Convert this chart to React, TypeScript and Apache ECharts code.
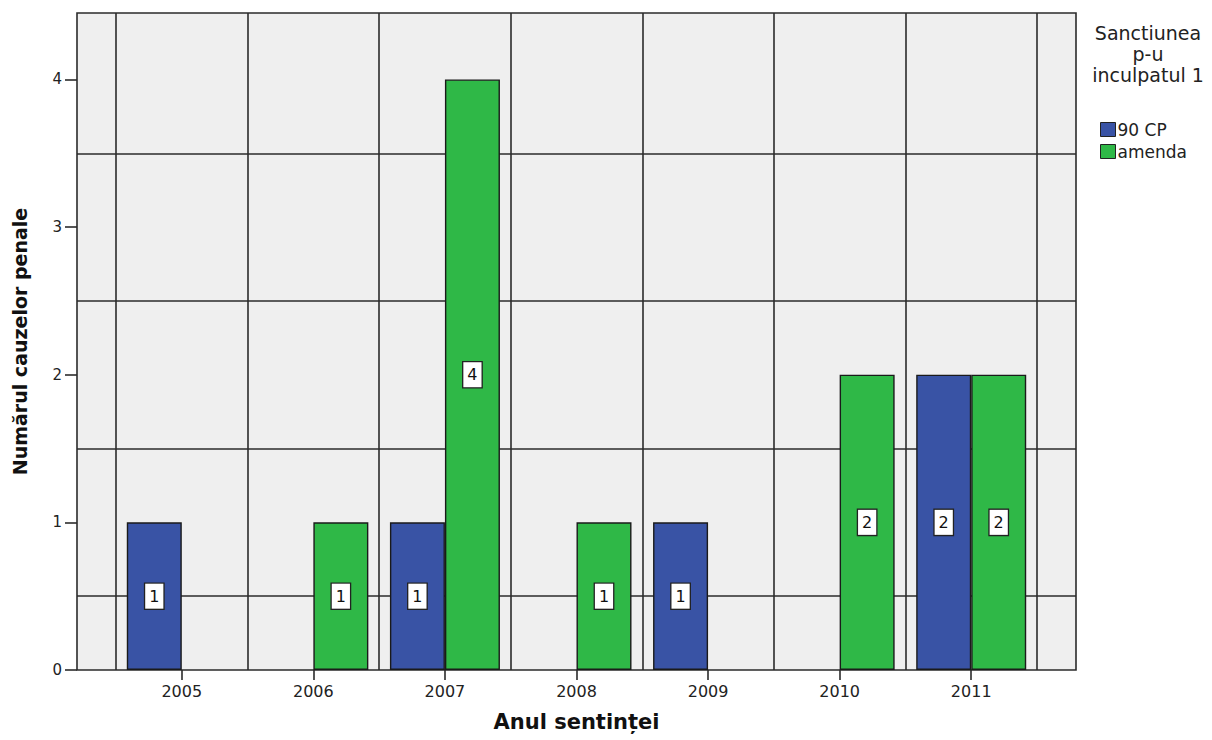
import React, { useEffect, useRef } from "react";
import * as echarts from "echarts";

const years = ["2005", "2006", "2007", "2008", "2009", "2010", "2011"];
const cp90 = [1, null, 1, null, 1, null, 2];
const amenda = [null, 1, 4, 1, null, 2, 2];
const yTicks = [0, 1, 2, 3, 4];
const hGridValues = [0.5, 1.5, 2.5, 3.5];
const yMax = 4.45;
const seriesNames = ["90 CP", "amenda"];
const legendTitle = "Sanctiunea\np-u\ninculpatul 1";
const yTitle = "Numărul cauzelor penale";
const xTitle = "Anul sentinței";

const FONT = "DejaVu Sans";
const BLUE = "#3953a5";
const GREEN = "#2fb847";
const LINE = "#2b2b2b";
const LW = 1.6;

export default function App() {
  const ref = useRef<HTMLDivElement>(null);
  useEffect(() => {
    if (!ref.current) return;
    const chart = echarts.init(ref.current, null, { renderer: "svg" });
    const labelStyle = {
      show: true,
      position: "inside",
      formatter: "{c}",
      color: "#111",
      fontSize: 16,
      fontFamily: FONT,
      backgroundColor: "#ffffff",
      borderColor: "#222",
      borderWidth: 1.3,
      padding: [5, 4, 4, 4],
    };
    chart.setOption({
      animation: false,
      backgroundColor: "#ffffff",
      textStyle: { fontFamily: FONT },
      grid: [
        {
          left: 77,
          right: 136,
          top: 13,
          bottom: 70,
          show: true,
          backgroundColor: "#efefef",
          borderColor: LINE,
          borderWidth: LW,
        },
        {
          left: 116,
          right: 175,
          top: 13,
          bottom: 70,
          show: false,
        },
      ],
      xAxis: [
        { gridIndex: 0, type: "value", min: 0, max: 1, show: false },
        {
          gridIndex: 1,
          type: "category",
          data: years,
          boundaryGap: true,
          axisLine: { show: false },
          axisTick: { show: true, alignWithLabel: true, length: 10, lineStyle: { color: LINE, width: LW } },
          axisLabel: { fontSize: 16, color: "#222", margin: 13, fontFamily: FONT },
          splitLine: { show: true, lineStyle: { color: LINE, width: LW } },
          name: xTitle,
          nameLocation: "middle",
          nameGap: 41,
          nameTextStyle: { fontSize: 21, fontWeight: "bold", color: "#111", fontFamily: FONT },
        },
      ],
      yAxis: [
        {
          gridIndex: 0,
          type: "value",
          min: 0,
          max: yMax,
          axisLine: { show: false },
          axisTick: { show: true, length: 12, customValues: yTicks, lineStyle: { color: LINE, width: LW } },
          axisLabel: { fontSize: 15, color: "#222", margin: 15, customValues: yTicks, fontFamily: FONT },
          splitLine: { show: false },
          name: yTitle,
          nameLocation: "middle",
          nameGap: 48,
          nameTextStyle: { fontSize: 19, fontWeight: "bold", color: "#111", fontFamily: FONT },
        },
        { gridIndex: 1, type: "value", min: 0, max: yMax, show: false },
      ],
      legend: {
        orient: "vertical",
        left: 1100,
        top: 121,
        padding: 0,
        itemWidth: 15,
        itemHeight: 14,
        itemGap: 5,
        icon: "rect",
        data: seriesNames,
        itemStyle: { borderColor: "#222", borderWidth: 1 },
        textStyle: { fontSize: 17, color: "#222", fontFamily: FONT, padding: [0, 0, 0, -3] },
      },
      graphic: [
        {
          type: "text",
          x: 1148,
          y: 22,
          style: {
            text: legendTitle,
            align: "center",
            textAlign: "center",
            fontSize: 19,
            lineHeight: 21,
            fontFamily: FONT,
            fill: "#222",
          },
        },
      ],
      series: [
        {
          type: "line",
          xAxisIndex: 0,
          yAxisIndex: 0,
          data: [],
          silent: true,
          markLine: {
            silent: true,
            z: 1,
            symbol: ["none", "none"],
            label: { show: false },
            lineStyle: { color: LINE, type: "solid", width: LW },
            data: hGridValues.map((v) => ({ yAxis: v })),
          },
        },
        {
          name: seriesNames[0],
          type: "bar",
          xAxisIndex: 1,
          yAxisIndex: 1,
          data: cp90,
          barWidth: 55,
          barGap: "0%",
          z: 3,
          itemStyle: { color: BLUE, borderColor: "#1a1a1a", borderWidth: 1.4 },
          label: labelStyle,
        },
        {
          name: seriesNames[1],
          type: "bar",
          xAxisIndex: 1,
          yAxisIndex: 1,
          data: amenda,
          barWidth: 55,
          barGap: "0%",
          z: 3,
          itemStyle: { color: GREEN, borderColor: "#1a1a1a", borderWidth: 1.4 },
          label: labelStyle,
        },
      ],
    });
    return () => chart.dispose();
  }, []);
  return (
    <div
      ref={ref}
      style={{ position: "fixed", left: 0, top: 0, width: 1212, height: 740, background: "#fff" }}
    />
  );
}
